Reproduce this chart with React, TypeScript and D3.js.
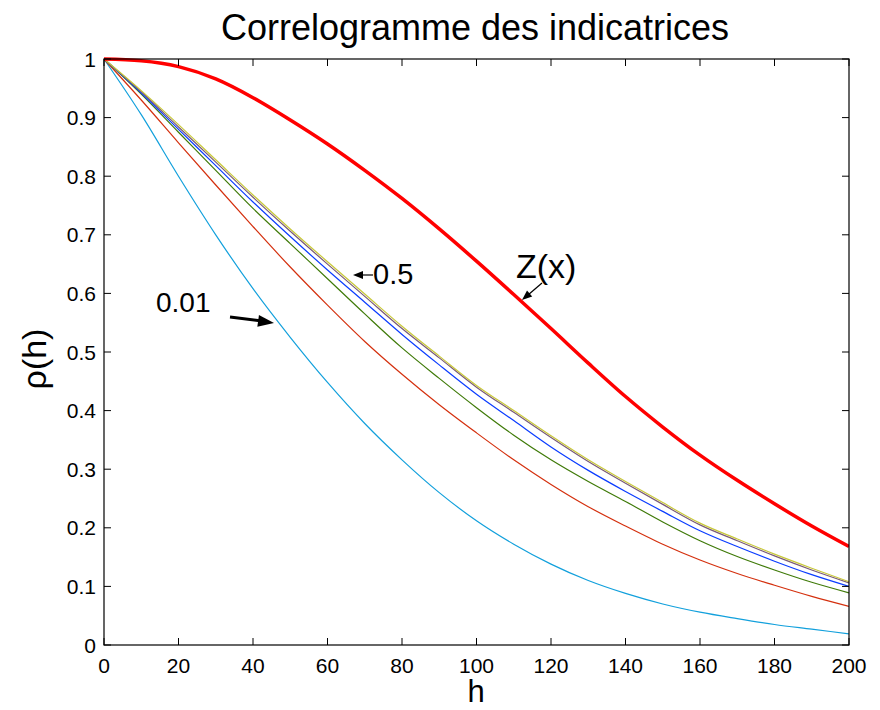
import React from "react";
import * as d3 from "d3";

const lags = [0, 10, 20, 30, 40, 50, 60, 70, 80, 90, 100, 110, 120, 130, 140, 150, 160, 170, 180, 190, 200];

const zValues = [1, 0.997, 0.987, 0.966, 0.934, 0.896, 0.855, 0.81, 0.762, 0.71, 0.655, 0.598, 0.54, 0.481, 0.424, 0.372, 0.324, 0.281, 0.241, 0.203, 0.168];
const q01 = [1, 0.905, 0.8, 0.7, 0.608, 0.525, 0.448, 0.378, 0.316, 0.26, 0.212, 0.172, 0.138, 0.11, 0.088, 0.07, 0.056, 0.045, 0.035, 0.027, 0.019];
const q05 = [1, 0.93, 0.857, 0.785, 0.714, 0.645, 0.58, 0.518, 0.462, 0.41, 0.362, 0.316, 0.274, 0.236, 0.203, 0.172, 0.145, 0.122, 0.102, 0.083, 0.066];
const q10 = [1, 0.94, 0.875, 0.81, 0.745, 0.685, 0.625, 0.565, 0.507, 0.455, 0.405, 0.358, 0.316, 0.279, 0.245, 0.21, 0.178, 0.151, 0.128, 0.107, 0.089];
const q20 = [1, 0.942, 0.88, 0.818, 0.756, 0.697, 0.64, 0.585, 0.53, 0.478, 0.428, 0.383, 0.338, 0.298, 0.262, 0.228, 0.195, 0.168, 0.143, 0.12, 0.1];
const q30 = [1, 0.944, 0.884, 0.824, 0.764, 0.706, 0.65, 0.595, 0.54, 0.49, 0.44, 0.397, 0.354, 0.313, 0.276, 0.24, 0.205, 0.178, 0.152, 0.128, 0.106];
const q50 = [1, 0.946, 0.888, 0.828, 0.768, 0.71, 0.654, 0.599, 0.544, 0.493, 0.443, 0.4, 0.357, 0.316, 0.279, 0.243, 0.208, 0.181, 0.155, 0.131, 0.108];

const xTicks = [0, 20, 40, 60, 80, 100, 120, 140, 160, 180, 200];
const yTicks = [0, 0.1, 0.2, 0.3, 0.4, 0.5, 0.6, 0.7, 0.8, 0.9, 1];

const thinSeries = [
  { name: "0.01", values: q01, color: "#12a0dc" },
  { name: "0.05", values: q05, color: "#d4300e" },
  { name: "0.1", values: q10, color: "#3f7a08" },
  { name: "0.2", values: q20, color: "#0a3cff" },
  { name: "0.3", values: q30, color: "#7a5a78" },
  { name: "0.5", values: q50, color: "#c8c83a" },
];

const FONT = "'Liberation Sans', Arial, Helvetica, sans-serif";

export default function App() {
  const left = 104, top = 59, right = 849, bottom = 645;
  const x = d3.scaleLinear().domain([0, 200]).range([left, right]);
  const y = d3.scaleLinear().domain([0, 1]).range([bottom, top]);
  const line = d3
    .line<[number, number]>()
    .x((d) => x(d[0]))
    .y((d) => y(d[1]))
    .curve(d3.curveMonotoneX);
  const pts = (vals: number[]) => lags.map((h, i) => [h, vals[i]] as [number, number]);
  const tl = 7;

  const arrowHead = (x1: number, y1: number, x2: number, y2: number, len: number, wid: number) => {
    const a = Math.atan2(y2 - y1, x2 - x1);
    const bx = x2 - len * Math.cos(a), by = y2 - len * Math.sin(a);
    const px = -Math.sin(a) * wid, py = Math.cos(a) * wid;
    return `${x2},${y2} ${bx + px},${by + py} ${bx - px},${by - py}`;
  };

  return (
    <svg width={880} height={710} style={{ position: "absolute", left: 0, top: 0, background: "#fff" }}>
      <rect x={0} y={0} width={880} height={710} fill="#fff" />
      <defs>
        <clipPath id="plot">
          <rect x={left} y={top - 2} width={right - left} height={bottom - top + 2} />
        </clipPath>
      </defs>
      <g clipPath="url(#plot)">
        {thinSeries.map((s) => (
          <path key={s.name} d={line(pts(s.values)) || ""} fill="none" stroke={s.color} strokeWidth={1.2} />
        ))}
        <path d={line(pts(zValues)) || ""} fill="none" stroke="#ff0000" strokeWidth={3.5} />
      </g>
      <rect x={left} y={top} width={right - left} height={bottom - top} fill="none" stroke="#000" strokeWidth={1.2} />
      {xTicks.map((t) => (
        <g key={"x" + t}>
          <line x1={x(t)} x2={x(t)} y1={bottom} y2={bottom - tl} stroke="#000" />
          <line x1={x(t)} x2={x(t)} y1={top} y2={top + tl} stroke="#000" />
          <text x={x(t)} y={673} textAnchor="middle" fontFamily={FONT} fontSize={21}>
            {t}
          </text>
        </g>
      ))}
      {yTicks.map((t) => (
        <g key={"y" + t}>
          <line x1={left} x2={left + tl} y1={y(t)} y2={y(t)} stroke="#000" />
          <line x1={right} x2={right - tl} y1={y(t)} y2={y(t)} stroke="#000" />
          <text x={96} y={y(t) + 7.5} textAnchor="end" fontFamily={FONT} fontSize={21}>
            {t}
          </text>
        </g>
      ))}
      <text x={475} y={40} textAnchor="middle" fontFamily={FONT} fontSize={36}>
        Correlogramme des indicatrices
      </text>
      <text x={476} y={702} textAnchor="middle" fontFamily={FONT} fontSize={31}>
        h
      </text>
      <text transform="translate(46,359) rotate(-90)" textAnchor="middle" fontFamily={FONT} fontSize={34}>
        ρ(h)
      </text>
      {/* annotations */}
      <text x={373} y={284} fontFamily={FONT} fontSize={29}>0.5</text>
      <line x1={373} y1={275} x2={360} y2={275} stroke="#000" strokeWidth={1.2} />
      <polygon points={arrowHead(373, 275, 353, 275, 10, 4)} fill="#000" />
      <text x={516} y={278} fontFamily={FONT} fontSize={34}>Z(x)</text>
      <line x1={542} y1={283} x2={528} y2={295} stroke="#000" strokeWidth={1.2} />
      <polygon points={arrowHead(542, 283, 522, 300, 10, 4)} fill="#000" />
      <text x={156} y={312} fontFamily={FONT} fontSize={28}>0.01</text>
      <line x1={230} y1={317} x2={262} y2={321} stroke="#000" strokeWidth={3} />
      <polygon points={arrowHead(230, 317, 274, 323, 16, 6)} fill="#000" />
    </svg>
  );
}
